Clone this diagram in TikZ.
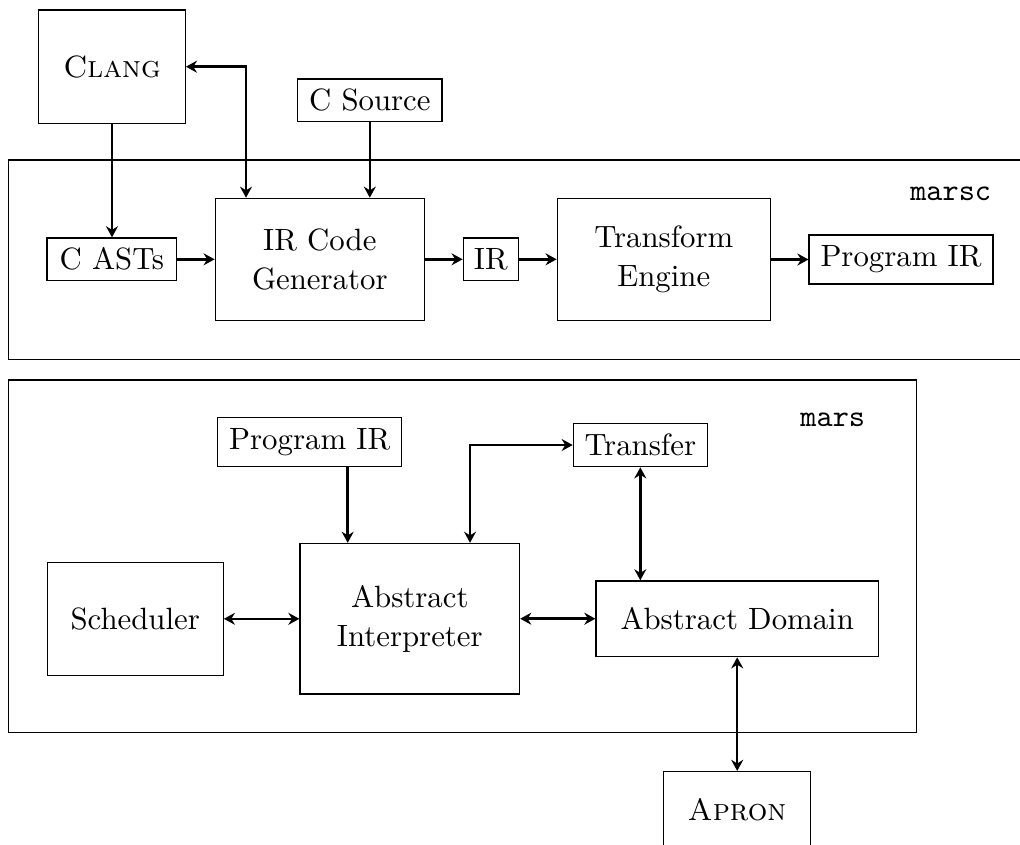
\documentclass[tikz,border=0pt]{standalone}
\usetikzlibrary{arrows.meta}
\begin{document}
\begin{tikzpicture}[x=0.3247pt,y=-0.3247pt,
  >={Stealth[length=3.6pt,width=3.9pt,inset=1.2pt]},
  box/.style={draw, line width=0.4pt, inner sep=0pt, align=center, font=\fontsize{10}{12.5}\selectfont},
  frame/.style={draw, line width=0.4pt},
  lbl/.style={anchor=base east, inner sep=0pt, font=\fontsize{10}{12.5}\selectfont\ttfamily},
  conn/.style={line width=0.8pt}]
\useasboundingbox (0,0) rectangle (1020,844);
\clip (0,0) rectangle (1020,844);
% frames
\draw[frame] (8.3,160) rectangle (1040,359.3);
\draw[frame] (8.3,380) rectangle (916.3,732.7);
% marsc part
\node[box, minimum width=47.6pt, minimum height=36.8pt] (clang) at (112,66.7) {\textsc{Clang}};
\node[box, minimum width=46.9pt, minimum height=13.7pt] (csrc) at (369.8,100.2) {C Source};
\node[box, minimum width=42.1pt, minimum height=13.9pt] (casts) at (111.8,259.3) {C ASTs};
\node[box, minimum width=67.9pt, minimum height=39.6pt] (irg) at (319.8,259.3) {IR Code\\Generator};
\node[box, minimum width=17.9pt, minimum height=13.9pt] (ir) at (490.8,259.3) {IR};
\node[box, minimum width=69.2pt, minimum height=39.7pt] (te) at (663.8,259.5) {Transform\\Engine};
\node[box, minimum width=59.7pt, minimum height=15.9pt] (pir1) at (901,259.5) {Program IR};
\node[lbl] (lmarsc) at (991.7,200) {marsc};
% mars part
\node[lbl] (lmars) at (865.7,426) {mars};
\node[box, minimum width=59.7pt, minimum height=15.9pt] (pir2) at (309.7,442.2) {Program IR};
\node[box, minimum width=43.5pt, minimum height=14.1pt] (tr) at (640.3,445) {Transfer};
\node[box, minimum width=57.2pt, minimum height=36.7pt] (sch) at (135.2,618.8) {Scheduler};
\node[box, minimum width=71.3pt, minimum height=48.9pt] (ai) at (409.8,618.7) {Abstract\\Interpreter};
\node[box, minimum width=91.7pt, minimum height=24.6pt] (ad) at (737.2,618.8) {Abstract Domain};
\node[box, minimum width=47.9pt, minimum height=25pt] (apron) at (737,810) {\textsc{Apron}};
% connectors
\coordinate (kc) at (246,0);
\coordinate (kp) at (347.7,0);
\coordinate (kt) at (470,0);
\draw[conn,<->] (clang.east) -| (irg.north -| kc);
\draw[conn,->] (clang.south) -- (clang.south |- casts.north);
\draw[conn,->] (csrc.south) -- (csrc.south |- irg.north);
\draw[conn,->] (casts.east) -- (casts.east -| irg.west);
\draw[conn,->] (irg.east) -- (irg.east -| ir.west);
\draw[conn,->] (ir.east) -- (ir.east -| te.west);
\draw[conn,->] (te.east) -- (te.east -| pir1.west);
\draw[conn,->] (pir2.south -| kp) -- (ai.north -| kp);
\draw[conn,<->] (ai.north -| kt) |- (tr.west);
\draw[conn,<->] (tr.south) -- (tr.south |- ad.north);
\draw[conn,<->] (sch.east) -- (sch.east -| ai.west);
\draw[conn,<->] (ai.east) -- (ai.east -| ad.west);
\draw[conn,<->] (ad.south) -- (ad.south |- apron.north);
\end{tikzpicture}
\end{document}
